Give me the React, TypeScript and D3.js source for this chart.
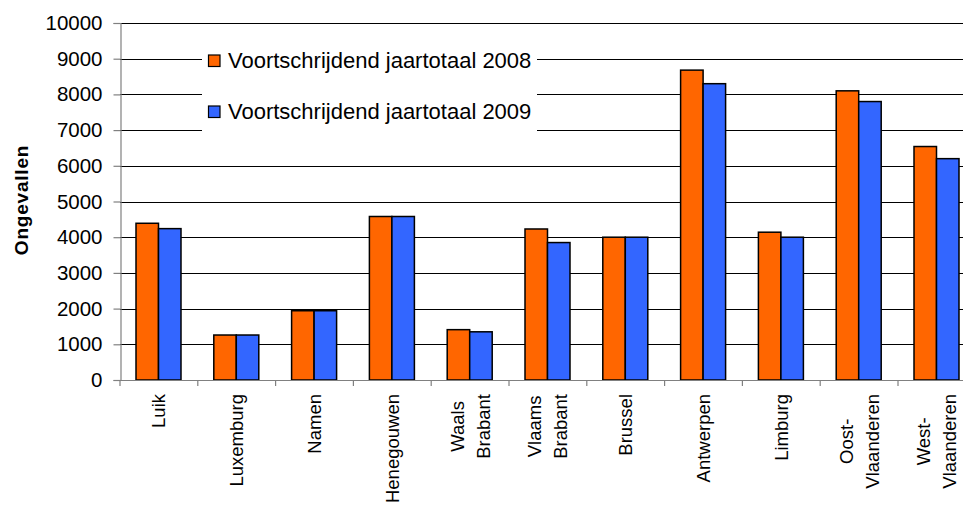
import { useEffect, useRef } from 'react';
import * as d3 from 'd3';

const categories = [
  'Luik', 'Luxemburg', 'Namen', 'Henegouwen', 'Waals Brabant', 'Vlaams Brabant',
  'Brussel', 'Antwerpen', 'Limburg', 'Oost- Vlaanderen', 'West- Vlaanderen',
];
const categoryLines = [
  ['Luik'], ['Luxemburg'], ['Namen'], ['Henegouwen'], ['Waals', 'Brabant'], ['Vlaams', 'Brabant'],
  ['Brussel'], ['Antwerpen'], ['Limburg'], ['Oost-', 'Vlaanderen'], ['West-', 'Vlaanderen'],
];
const seriesNames = ['Voortschrijdend jaartotaal 2008', 'Voortschrijdend jaartotaal 2009'];
const values2008 = [4390, 1260, 1940, 4580, 1410, 4230, 4000, 8680, 4140, 8100, 6540];
const values2009 = [4240, 1260, 1940, 4580, 1350, 3850, 4000, 8300, 4000, 7800, 6200];
const yTicks = [0, 1000, 2000, 3000, 4000, 5000, 6000, 7000, 8000, 9000, 10000];
const colors = ['#FF6600', '#3366FF'];

const App = () => {
  const svgRef = useRef<SVGSVGElement>(null);

  useEffect(() => {
    if (!svgRef.current) return;
    const svg = d3.select(svgRef.current);
    svg.selectAll('*').remove();

    const width = 963;
    const height = 505;
    const left = 120;
    const bandW = 77.8;
    const zeroY = 380;
    const topY = 23;
    const font = 'Arial, "Liberation Sans", sans-serif';

    const x = d3.scaleBand<string>()
      .domain(categories)
      .range([left, left + bandW * categories.length])
      .padding(0);
    const x1 = d3.scaleBand<string>()
      .domain(seriesNames)
      .range([16, 61])
      .padding(0);
    const y = d3.scaleLinear().domain([0, 10000]).range([zeroY, topY]);

    svg.attr('width', width).attr('height', height);

    // Gridlines
    svg.append('g')
      .selectAll('line')
      .data(yTicks.filter(d => d > 0))
      .enter()
      .append('line')
      .attr('x1', left)
      .attr('x2', width)
      .attr('y1', d => Math.round(y(d)) + 0.5)
      .attr('y2', d => Math.round(y(d)) + 0.5)
      .attr('stroke', '#000')
      .attr('stroke-width', 1);

    // Y axis
    const yAxis = svg.append('g')
      .attr('transform', `translate(${left + 0.5},0)`)
      .call(d3.axisLeft(y).tickValues(yTicks).tickSize(7).tickPadding(11).tickFormat(d => `${d}`));
    yAxis.select('.domain').attr('stroke', '#808080').attr('stroke-width', 1.2);
    yAxis.selectAll('.tick line').attr('stroke', '#808080').attr('stroke-width', 1.2);
    yAxis.selectAll('.tick text')
      .attr('fill', '#000')
      .style('font-family', font)
      .style('font-size', '20.5px');

    // Bars
    const series = [values2008, values2009];
    const groups = svg.append('g')
      .selectAll('g')
      .data(categories)
      .enter()
      .append('g')
      .attr('transform', d => `translate(${x(d)},0)`);
    groups.selectAll('rect')
      .data((_, i) => seriesNames.map((s, si) => ({ s, v: series[si][i], c: colors[si] })))
      .enter()
      .append('rect')
      .attr('x', d => x1(d.s) || 0)
      .attr('y', d => y(d.v))
      .attr('width', x1.bandwidth())
      .attr('height', d => zeroY - y(d.v))
      .attr('fill', d => d.c)
      .attr('stroke', '#000')
      .attr('stroke-width', 1.5);

    // X axis
    svg.append('line')
      .attr('x1', left)
      .attr('x2', width)
      .attr('y1', zeroY + 0.5)
      .attr('y2', zeroY + 0.5)
      .attr('stroke', '#808080')
      .attr('stroke-width', 1.2);
    const boundaries = categories.map(c => x(c) || 0).concat([left + bandW * categories.length]);
    svg.append('g')
      .selectAll('line')
      .data(boundaries)
      .enter()
      .append('line')
      .attr('x1', d => d)
      .attr('x2', d => d)
      .attr('y1', zeroY)
      .attr('y2', zeroY + 6)
      .attr('stroke', '#808080')
      .attr('stroke-width', 1.2);

    // X labels (rotated, multi-line centred within block)
    const lineGap = 26;
    categoryLines.forEach((lines, i) => {
      const cx = (x(categories[i]) || 0) + x.bandwidth() / 2;
      const g = svg.append('g');
      const texts = lines.map((ln, li) => {
        const lx = cx + (li - (lines.length - 1) / 2) * lineGap;
        return g.append('text')
          .attr('text-anchor', 'middle')
          .attr('dominant-baseline', 'central')
          .style('font-family', font)
          .style('font-size', '18.5px')
          .attr('fill', '#000')
          .attr('data-x', lx)
          .text(ln);
      });
      const lens = texts.map(t => (t.node() as SVGTextElement).getComputedTextLength());
      const maxLen = Math.max(...lens);
      const centerY = 394 + maxLen / 2;
      texts.forEach(t => {
        const lx = +t.attr('data-x');
        t.attr('transform', `translate(${lx},${centerY}) rotate(-90)`);
      });
    });

    // Y title
    svg.append('text')
      .attr('transform', `translate(21,200) rotate(-90)`)
      .attr('text-anchor', 'middle')
      .attr('dominant-baseline', 'central')
      .style('font-family', font)
      .style('font-size', '19px')
      .style('font-weight', 'bold')
      .style('letter-spacing', '0.8px')
      .text('Ongevallen');

    // Legend
    const legend = svg.append('g');
    legend.append('rect')
      .attr('x', 202)
      .attr('y', 40)
      .attr('width', 335)
      .attr('height', 92)
      .attr('fill', '#fff');
    seriesNames.forEach((s, i) => {
      const ly = 55 + i * 51;
      legend.append('rect')
        .attr('x', 208.5)
        .attr('y', ly)
        .attr('width', 11.5)
        .attr('height', 11.5)
        .attr('fill', colors[i])
        .attr('stroke', '#000')
        .attr('stroke-width', 1.2);
      legend.append('text')
        .attr('x', 228)
        .attr('y', ly + 13)
        .style('font-family', font)
        .style('font-size', '22px')
        .attr('fill', '#000')
        .text(s);
    });
  }, []);

  return (
    <svg
      ref={svgRef}
      style={{ position: 'absolute', left: 0, top: 0, display: 'block', background: '#fff' }}
    />
  );
};

export default App;
